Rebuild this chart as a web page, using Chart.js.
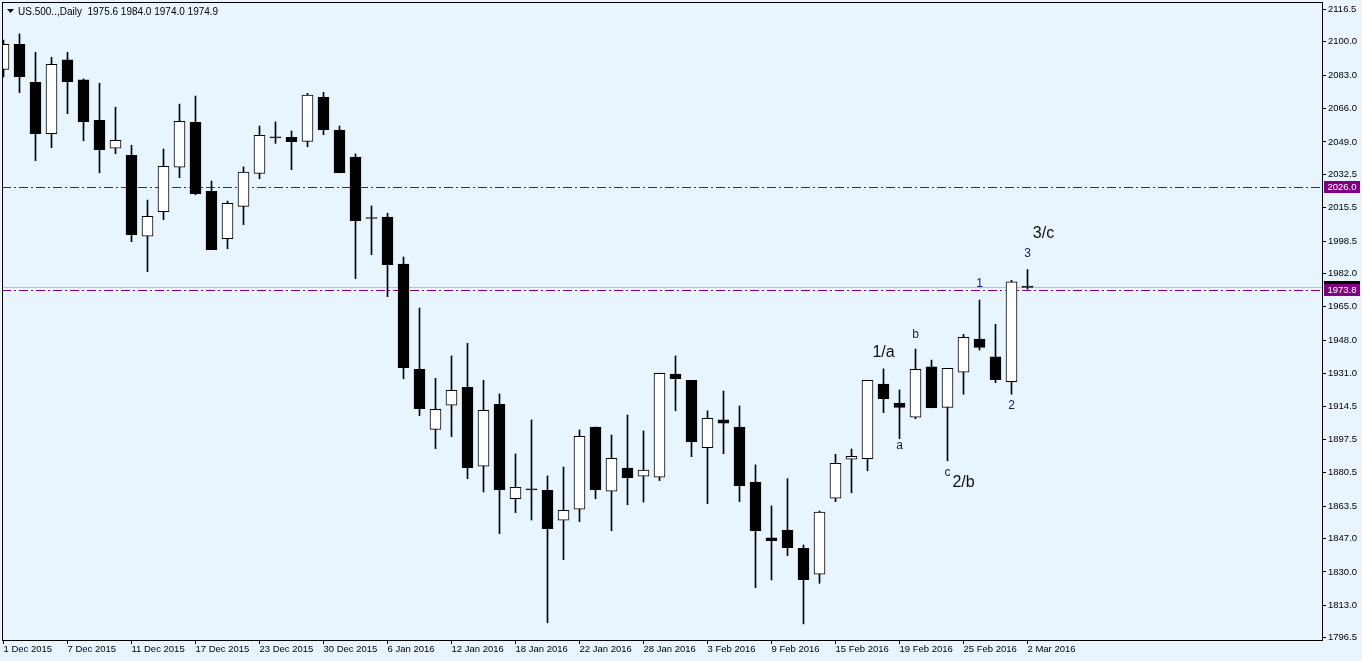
<!DOCTYPE html>
<html>
<head>
<meta charset="utf-8">
<title>US.500 Daily</title>
<script src="https://cdn.jsdelivr.net/npm/chart.js@4"></script>
<style>
  html, body { margin: 0; padding: 0; background: #e8f5ff; overflow: hidden; }
  canvas { display: block; }
</style>
</head>
<body>
<canvas id="chart" width="1362" height="661"></canvas>
<script>
// trading days shown on the chart
var days = [
  '1 Dec 2015', '2 Dec 2015', '3 Dec 2015', '4 Dec 2015', '7 Dec 2015', '8 Dec 2015', '9 Dec 2015', '10 Dec 2015',
  '11 Dec 2015', '14 Dec 2015', '15 Dec 2015', '16 Dec 2015', '17 Dec 2015', '18 Dec 2015', '21 Dec 2015', '22 Dec 2015',
  '23 Dec 2015', '24 Dec 2015', '28 Dec 2015', '29 Dec 2015', '30 Dec 2015', '31 Dec 2015', '4 Jan 2016', '5 Jan 2016',
  '6 Jan 2016', '7 Jan 2016', '8 Jan 2016', '11 Jan 2016', '12 Jan 2016', '13 Jan 2016', '14 Jan 2016', '15 Jan 2016',
  '18 Jan 2016', '19 Jan 2016', '20 Jan 2016', '21 Jan 2016', '22 Jan 2016', '25 Jan 2016', '26 Jan 2016', '27 Jan 2016',
  '28 Jan 2016', '29 Jan 2016', '1 Feb 2016', '2 Feb 2016', '3 Feb 2016', '4 Feb 2016', '5 Feb 2016', '8 Feb 2016',
  '9 Feb 2016', '10 Feb 2016', '11 Feb 2016', '12 Feb 2016', '15 Feb 2016', '16 Feb 2016', '17 Feb 2016', '18 Feb 2016',
  '19 Feb 2016', '22 Feb 2016', '23 Feb 2016', '24 Feb 2016', '25 Feb 2016', '26 Feb 2016', '29 Feb 2016', '1 Mar 2016',
  '2 Mar 2016'
];

var open = [2086.0, 2098.8, 2079.4, 2053.2, 2090.8, 2080.6, 2060.0, 2045.8, 2042.2, 2001.0, 2013.5, 2036.1, 2059.0,
  2023.9, 1999.7, 2016.2, 2033.0, 2051.6, 2051.4, 2049.3, 2071.8, 2055.1, 2041.3, 2010.5, 2010.8, 1986.8, 1933.2,
  1902.6, 1914.9, 1924.0, 1883.8, 1915.4, 1867.3, 1872.3, 1871.6, 1856.3, 1861.9, 1903.8, 1871.1, 1882.9, 1878.7,
  1878.2, 1930.8, 1927.6, 1893.3, 1907.4, 1903.8, 1875.8, 1847.3, 1851.3, 1842.0, 1828.8, 1867.5, 1887.4, 1887.7,
  1925.7, 1916.0, 1908.8, 1934.4, 1913.8, 1931.7, 1948.6, 1939.5, 1926.9, 1975.6];
var high = [2100.9, 2104.0, 2094.7, 2092.1, 2094.7, 2081.1, 2078.9, 2066.7, 2047.3, 2019.4, 2045.4, 2068.3, 2072.4,
  2029.1, 2018.9, 2036.3, 2057.1, 2059.2, 2054.6, 2073.8, 2074.3, 2057.1, 2042.9, 2016.4, 2012.7, 1990.4, 1964.4,
  1928.6, 1940.0, 1946.4, 1927.6, 1920.6, 1890.1, 1907.4, 1878.9, 1883.4, 1902.3, 1903.8, 1899.7, 1909.9, 1901.8,
  1931.2, 1940.0, 1927.6, 1912.0, 1922.1, 1914.5, 1884.5, 1863.6, 1877.5, 1843.7, 1861.0, 1889.9, 1892.6, 1927.6,
  1933.4, 1922.7, 1943.5, 1937.9, 1933.7, 1951.0, 1968.5, 1956.1, 1978.5, 1984.0];
var low = [2082.1, 2074.1, 2039.5, 2046.1, 2063.4, 2049.6, 2033.3, 2043.0, 1998.2, 1982.9, 2009.4, 2030.8, 2022.1,
  1994.1, 1994.6, 2006.9, 2030.3, 2048.3, 2034.9, 2046.6, 2052.7, 2033.3, 1979.4, 1991.6, 1970.2, 1928.4, 1909.6,
  1892.8, 1898.9, 1877.5, 1870.7, 1849.5, 1860.2, 1856.4, 1804.1, 1836.2, 1855.6, 1867.3, 1851.0, 1864.2, 1865.6,
  1876.5, 1912.1, 1888.7, 1864.7, 1890.2, 1865.8, 1822.0, 1825.9, 1838.3, 1803.5, 1824.2, 1865.8, 1870.3, 1881.5,
  1911.1, 1897.9, 1908.0, 1913.6, 1886.6, 1920.5, 1943.0, 1926.4, 1920.5, 1974.0];
var close = [2098.8, 2082.3, 2053.2, 2088.6, 2079.7, 2059.3, 2045.1, 2049.8, 2001.8, 2011.1, 2036.6, 2059.5, 2022.6,
  1994.1, 2017.8, 2033.6, 2052.4, 2051.0, 2049.1, 2072.9, 2055.3, 2033.3, 2008.9, 2010.0, 1986.5, 1934.0, 1913.1,
  1912.8, 1922.5, 1883.1, 1912.3, 1871.9, 1873.1, 1871.8, 1852.0, 1861.4, 1899.1, 1871.9, 1887.9, 1878.0, 1881.8,
  1931.2, 1928.4, 1896.3, 1908.2, 1905.7, 1873.9, 1851.0, 1845.9, 1842.3, 1826.0, 1860.4, 1885.3, 1888.9, 1927.6,
  1918.2, 1913.8, 1933.2, 1913.6, 1933.7, 1949.5, 1944.4, 1927.9, 1977.7, 1974.9];

// axis labels
var dateTicks = [0, 4, 8, 12, 16, 20, 24, 28, 32, 36, 40, 44, 48, 52, 56, 60, 64];
var priceTicks = [2116.5, 2100.0, 2083.0, 2066.0, 2049.0, 2032.5, 2015.5, 1998.5, 1982.0, 1965.0, 1948.0,
  1931.0, 1914.5, 1897.5, 1880.5, 1863.5, 1847.0, 1830.0, 1813.0, 1796.5];

// horizontal levels and current bid
var levels = [2026.0, 1973.8];
var bid = 1974.9;

// wave marks: text, bar index, price
var waveText = ['1/a', 'a', 'b', 'c', '2/b', '1', '2', '3', '3/c'];
var waveBar = [55, 56, 57, 59, 60, 61, 63, 64, 65];
var wavePrice = [1939.3, 1892.4, 1949.0, 1878.8, 1873.4, 1975.3, 1912.8, 1990.6, 2000.0];

var FONT = '"Liberation Sans", Arial, sans-serif';

var bodies = [], wicks = [], bodyColors = [];
for (var i = 0; i < open.length; i++) {
  bodies.push({ x: i, y: [open[i], close[i]] });
  wicks.push({ x: i, y: [low[i], high[i]] });
  bodyColors.push(close[i] > open[i] ? '#ffffff' : '#000000');
}

var mtOverlay = {
  id: 'mtOverlay',
  beforeDraw: function(chart) {
    var ctx = chart.ctx;
    ctx.save();
    ctx.fillStyle = '#e8f5ff';
    ctx.fillRect(0, 0, chart.width, chart.height);
    ctx.restore();
  },
  beforeDatasetsDraw: function(chart) {
    var ctx = chart.ctx, area = chart.chartArea, y = chart.scales.y;
    ctx.save();
    // bid line
    var by = Math.round(y.getPixelForValue(bid)) + 0.5;
    ctx.strokeStyle = '#c0c0c0';
    ctx.lineWidth = 1;
    ctx.beginPath();
    ctx.moveTo(area.left, by);
    ctx.lineTo(area.right, by);
    ctx.stroke();
    // levels
    ctx.strokeStyle = '#800080';
    ctx.setLineDash([9, 3, 2, 3]);
    levels.forEach(function(v) {
      var ly = Math.round(y.getPixelForValue(v)) + 0.5;
      ctx.beginPath();
      ctx.moveTo(area.left, ly);
      ctx.lineTo(area.right, ly);
      ctx.stroke();
    });
    ctx.restore();
  },
  afterDraw: function(chart) {
    var ctx = chart.ctx, area = chart.chartArea, x = chart.scales.x, y = chart.scales.y;
    ctx.save();
    // frame
    ctx.strokeStyle = '#000';
    ctx.lineWidth = 1;
    ctx.strokeRect(area.left + 0.5, area.top + 0.5, area.right - area.left, area.bottom - area.top);

    // price labels on axis
    ctx.font = '9.5px ' + FONT;
    ctx.textAlign = 'center';
    ctx.textBaseline = 'middle';
    var bp = Math.round(y.getPixelForValue(bid));
    ctx.fillStyle = '#000';
    ctx.fillRect(area.right + 2, bp - 6, 36, 12);
    levels.forEach(function(v) {
      var p = Math.round(y.getPixelForValue(v));
      ctx.fillStyle = '#800080';
      ctx.fillRect(area.right + 2, p - 6, 36, 12);
      ctx.fillStyle = '#fff';
      ctx.fillText(v.toFixed(1), area.right + 20, p);
    });

    // header
    ctx.fillStyle = '#000';
    ctx.beginPath();
    ctx.moveTo(7, 9);
    ctx.lineTo(14, 9);
    ctx.lineTo(10.5, 13);
    ctx.closePath();
    ctx.fill();
    ctx.font = '10px ' + FONT;
    ctx.textAlign = 'left';
    ctx.textBaseline = 'alphabetic';
    ctx.fillText('US.500..,Daily  ' + open[open.length - 1].toFixed(1) + ' ' + high[high.length - 1].toFixed(1) + ' ' +
      low[low.length - 1].toFixed(1) + ' ' + close[close.length - 1].toFixed(1), 18, 15);

    // wave marks
    ctx.textAlign = 'center';
    for (var k = 0; k < waveText.length; k++) {
      var big = waveText[k].indexOf('/') >= 0;
      ctx.font = (big ? '16px ' : '12px ') + FONT;
      ctx.fillStyle = big ? '#111111' : '#14146e';
      ctx.fillText(waveText[k], x.getPixelForValue(waveBar[k]), y.getPixelForValue(wavePrice[k]));
    }
    ctx.restore();
  }
};

new Chart(document.getElementById('chart').getContext('2d'), {
  type: 'bar',
  data: {
    datasets: [
      {
        label: 'body',
        data: bodies,
        backgroundColor: bodyColors,
        borderColor: '#000',
        borderWidth: 1,
        borderSkipped: false,
        barThickness: 11,
        minBarLength: 1,
        grouped: false,
        order: 0
      },
      {
        label: 'wick',
        data: wicks,
        backgroundColor: '#000',
        borderWidth: 0,
        barThickness: 1,
        grouped: false,
        order: 1
      }
    ]
  },
  options: {
    responsive: false,
    animation: false,
    layout: { padding: { left: 2, top: 2, right: 0, bottom: 0 } },
    plugins: { legend: { display: false }, tooltip: { enabled: false } },
    scales: {
      x: {
        type: 'linear',
        min: -0.09375,
        max: 82.40625,
        offset: false,
        grid: { display: true, offset: false, drawOnChartArea: false, drawTicks: true, tickLength: 4, color: '#000' },
        border: { display: false },
        ticks: {
          autoSkip: false,
          maxRotation: 0,
          minRotation: 0,
          align: 'start',
          padding: 0,
          color: '#000',
          font: { family: FONT, size: 9.5 },
          callback: function(v) { return days[v] || ''; }
        },
        afterBuildTicks: function(s) { s.ticks = dateTicks.map(function(v) { return { value: v }; }); },
        afterFit: function(s) { s.height = 21; s.paddingLeft = 0; s.paddingRight = 0; }
      },
      y: {
        position: 'right',
        min: 1795.3,
        max: 2120.3,
        grid: { display: true, drawOnChartArea: false, drawTicks: true, tickLength: 4, color: '#000' },
        border: { display: false },
        ticks: {
          autoSkip: false,
          padding: 2,
          color: '#000',
          font: { family: FONT, size: 9.5 },
          callback: function(v) { return v.toFixed(1); }
        },
        afterBuildTicks: function(s) { s.ticks = priceTicks.map(function(v) { return { value: v }; }); },
        afterFit: function(s) { s.width = 40; s.paddingTop = 0; s.paddingBottom = 0; }
      }
    }
  },
  plugins: [mtOverlay]
});
</script>
</body>
</html>
